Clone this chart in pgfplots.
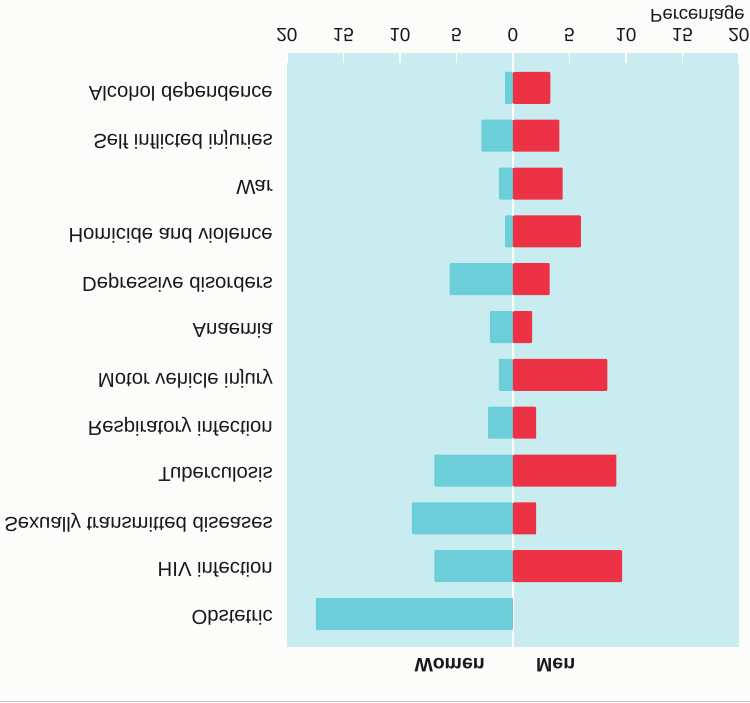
\documentclass[border=0pt]{standalone}
\usepackage{fontspec}
\setmainfont{Liberation Sans}
\usepackage{graphicx}
\usepackage{pgfplots}
\usepackage{pgfplotstable}
\pgfplotsset{compat=1.18}
\definecolor{panel}{RGB}{200,236,239}
\definecolor{women}{RGB}{108,206,216}
\definecolor{men}{RGB}{238,50,70}
\definecolor{bgc}{RGB}{252,252,250}
\definecolor{txt}{RGB}{25,25,25}
\newcommand{\fl}[1]{\scalebox{1}[-1]{#1}}
\pgfplotstableread{
y women men
0 -17.45 0
1 -6.95 9.65
2 -8.95 2.05
3 -6.95 9.15
4 -2.2 2.05
5 -1.25 8.35
6 -2.05 1.7
7 -5.6 3.25
8 -0.7 6.0
9 -1.25 4.4
10 -2.8 4.1
11 -0.7 3.3
}\data
\begin{document}
\begin{tikzpicture}
\fill[bgc] (-287pt,-55pt) rectangle (463pt,647pt);
\fill[gray!45] (-287pt,-55pt) rectangle (463pt,-53.5pt);
\begin{axis}[
 at={(0,0)}, anchor=south west,
 scale only axis, width=452pt, height=594pt,
 xmin=-20, xmax=20, ymin=-0.69, ymax=11.73,
 axis background/.style={fill=panel},
 axis line style={draw=none},
 xtick={-20,-15,...,20},
 xticklabels={\fl{20},\fl{15},\fl{10},\fl{5},\fl{0},\fl{5},\fl{10},\fl{15},\fl{20}},
 xtick pos=right, xticklabel pos=right,
 tick align=inside, major tick length=10pt,
 xtick style={white, line width=1.2pt},
 xticklabel style={font=\fontsize{19}{22}\selectfont, text=txt, inner sep=0pt, yshift=11pt},
 ytick={0,...,11},
 yticklabels={\fl{Obstetric},\fl{HIV infection},\fl{Sexually transmitted diseases},\fl{Tuberculosis},\fl{Respiratory infection},\fl{Motor vehicle injury},\fl{Anaemia},\fl{Depressive disorders},\fl{Homicide and violence},\fl{War},\fl{Self inflicted injuries},\fl{Alcohol dependence}},
 ytick style={draw=none},
 yticklabel style={font=\fontsize{20.3}{24}\selectfont, text=txt, inner sep=0pt, xshift=-4pt, yshift=-4pt},
 extra x ticks={0}, extra x tick labels={},
 extra x tick style={grid=major, major grid style={white, line width=1.5pt}, major tick length=0pt},
 xbar, bar width=32pt, bar shift=0pt,
 clip=false,
]
\addplot[draw=none, fill=women, rounded corners=1pt] table[x=women,y=y]{\data};
\addplot[draw=none, fill=men, rounded corners=1pt] table[x=men,y=y]{\data};
\node[anchor=south east, inner sep=0pt, font=\fontsize{18.5}{22}\selectfont, text=txt, xshift=6pt, yshift=31pt] at (rel axis cs:1,1) {\fl{Percentage}};
\node[anchor=north east, inner sep=0pt, font=\fontsize{19.5}{22}\selectfont\bfseries, text=txt, xshift=-28pt, yshift=-11pt] at (axis cs:0,-0.69) {\fl{Women}};
\node[anchor=north west, inner sep=0pt, font=\fontsize{19.5}{22}\selectfont\bfseries, text=txt, xshift=23pt, yshift=-11pt] at (axis cs:0,-0.69) {\fl{Men}};
\end{axis}
\end{tikzpicture}
\end{document}
